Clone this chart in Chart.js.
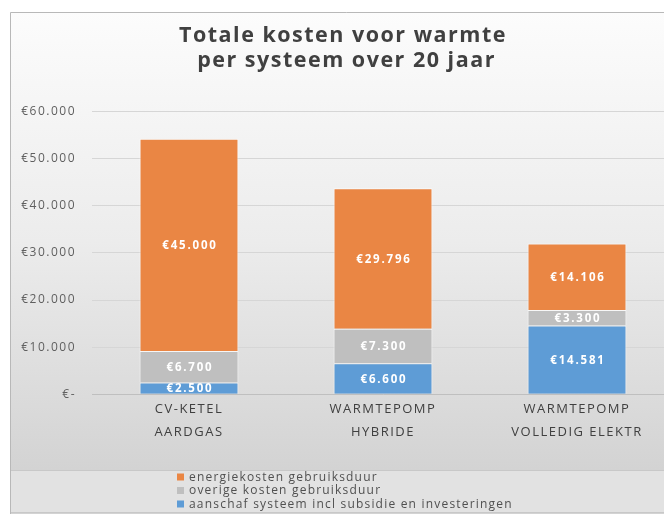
<!DOCTYPE html>
<html>
<head>
<meta charset="utf-8">
<script src="https://cdn.jsdelivr.net/npm/chart.js@4"></script>
<style>
    html, body { margin: 0; padding: 0; background: #fff; overflow: hidden; }
    #wrap { width: 682px; height: 514px; }
</style>
</head>
<body>
<div id="wrap"><canvas id="kosten" width="682" height="514"></canvas></div>
<script>
// Data
const categories = [['CV-KETEL', 'AARDGAS'], ['WARMTEPOMP', 'HYBRIDE'], ['WARMTEPOMP', 'VOLLEDIG ELEKTR']];
const aanschaf = [2500, 6600, 14581];
const overige = [6700, 7300, 3300];
const energie = [45000, 29796, 14106];
const seriesNames = ['aanschaf systeem incl subsidie en investeringen', 'overige kosten gebruiksduur', 'energiekosten gebruiksduur'];
const seriesColors = ['#5e9cd6', '#bfbfbf', '#ea8644'];
const yTicks = [0, 10000, 20000, 30000, 40000, 50000, 60000];

const FONT = '"Open Sans", "DejaVu Sans", sans-serif';

function euro(v) {
    if (v === 0) return '€-';
    return '€' + String(Math.round(v)).replace(/\B(?=(\d{3})+(?!\d))/g, '.');
}

// Grey panel with gradient and the lighter legend band
const backgroundPlugin = {
    id: 'panelBackground',
    beforeDraw(chart) {
        const ctx = chart.ctx;
        ctx.save();
        const g = ctx.createLinearGradient(0, 12, 0, 470);
        g.addColorStop(0, '#fcfcfc');
        g.addColorStop(0.5, '#ececec');
        g.addColorStop(1, '#d3d3d3');
        ctx.fillStyle = g;
        ctx.fillRect(10, 12, chart.width - 10, 502);
        ctx.fillStyle = '#e2e2e2';
        ctx.fillRect(10, 470, chart.width - 10, 42);
        ctx.strokeStyle = '#c8c8c8';
        ctx.lineWidth = 1;
        ctx.beginPath();
        ctx.moveTo(10, 470.5); ctx.lineTo(chart.width, 470.5);
        ctx.moveTo(10, 512.5); ctx.lineTo(chart.width, 512.5);
        ctx.stroke();
        ctx.strokeStyle = '#b8b8b8';
        ctx.beginPath();
        ctx.moveTo(10.5, 514); ctx.lineTo(10.5, 12.5); ctx.lineTo(chart.width, 12.5);
        ctx.stroke();
        ctx.restore();
        // the original text is set quite wide
        ctx.letterSpacing = '1.5px';
    }
};

// White value labels in the middle of each segment
const segmentLabels = {
    id: 'segmentLabels',
    afterDatasetsDraw(chart) {
        const ctx = chart.ctx;
        ctx.save();
        ctx.font = 'bold 11.5px ' + FONT;
        ctx.letterSpacing = '1.8px';
        ctx.fillStyle = '#ffffff';
        ctx.textAlign = 'center';
        ctx.textBaseline = 'middle';
        chart.data.datasets.forEach((ds, i) => {
            chart.getDatasetMeta(i).data.forEach((bar, j) => {
                const p = bar.getProps(['x', 'y', 'base'], true);
                ctx.fillText(euro(ds.data[j]), p.x + 1, (p.y + p.base) / 2 + 1);
            });
        });
        ctx.restore();
    }
};

// Vertical legend in the bottom band
const bandLegend = {
    id: 'bandLegend',
    afterDraw(chart) {
        const ctx = chart.ctx;
        ctx.save();
        ctx.font = '12px ' + FONT;
        ctx.letterSpacing = '1.2px';
        ctx.textBaseline = 'middle';
        ctx.textAlign = 'left';
        const rows = chart.data.datasets.slice().reverse();
        rows.forEach((ds, k) => {
            const y = 477 + k * 13.5;
            ctx.fillStyle = ds.backgroundColor;
            ctx.fillRect(177, y - 3.5, 7, 7);
            ctx.fillStyle = '#505050';
            ctx.fillText(ds.label, 189, y + 0.5);
        });
        ctx.restore();
    }
};

const ctx = document.getElementById('kosten').getContext('2d');
const chart = new Chart(ctx, {
    type: 'bar',
    data: {
        labels: categories,
        datasets: [
            { label: seriesNames[0], data: aanschaf, backgroundColor: seriesColors[0] },
            { label: seriesNames[1], data: overige, backgroundColor: seriesColors[1] },
            { label: seriesNames[2], data: energie, backgroundColor: seriesColors[2] }
        ].map(d => Object.assign(d, {
            borderColor: 'rgba(255,255,255,0.7)',
            borderWidth: 1,
            barPercentage: 0.51,
            categoryPercentage: 1
        }))
    },
    options: {
        responsive: false,
        animation: false,
        layout: { padding: { left: 12, right: 8, top: 0, bottom: 67 } },
        plugins: {
            legend: { display: false },
            tooltip: { enabled: false },
            title: {
                display: true,
                text: ['Totale kosten voor warmte', ' per systeem over 20 jaar'],
                color: '#404040',
                font: { family: FONT, size: 21.5, weight: 'bold', lineHeight: 1.15 },
                padding: { top: 24, bottom: 38 }
            }
        },
        scales: {
            x: {
                stacked: true,
                grid: { display: false, drawTicks: false },
                border: { display: true, color: '#bfbfbf', width: 1 },
                ticks: {
                    color: '#404040',
                    padding: 4,
                    font: { family: FONT, size: 13, lineHeight: 1.72 },
                    maxRotation: 0,
                    autoSkip: false
                }
            },
            y: {
                stacked: true,
                min: 0,
                max: 60000,
                afterBuildTicks(scale) {
                    scale.ticks = yTicks.map(v => ({ value: v }));
                },
                afterFit(scale) {
                    scale.width = 80;
                },
                grid: { color: '#d6d6d6', drawTicks: false },
                border: { display: false },
                ticks: {
                    color: '#5f5f5f',
                    padding: 16,
                    font: { family: FONT, size: 12 },
                    callback: v => euro(v)
                }
            }
        }
    },
    plugins: [backgroundPlugin, segmentLabels, bandLegend]
});
</script>
</body>
</html>
